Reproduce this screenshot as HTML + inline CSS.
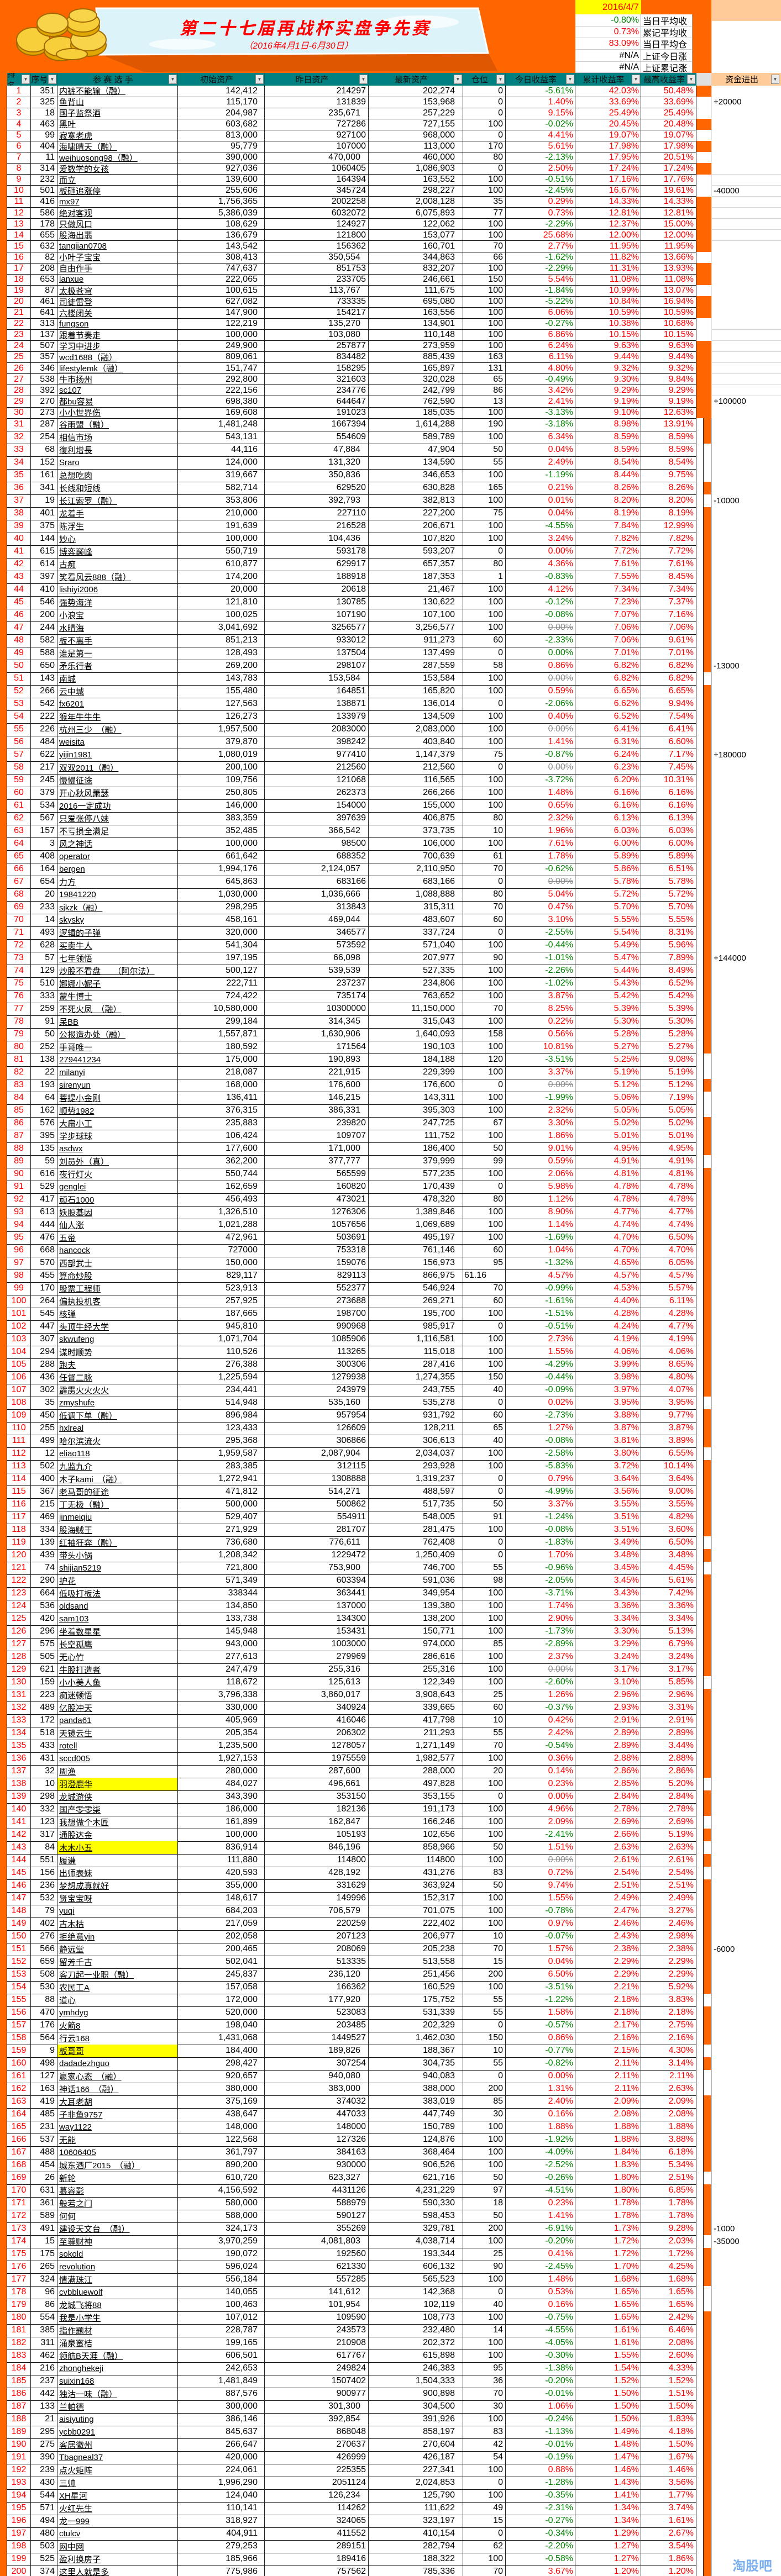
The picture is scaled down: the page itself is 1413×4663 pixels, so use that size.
<!DOCTYPE html>
<html lang="zh">
<head>
<meta charset="utf-8">
<title>第二十七届再战杯实盘争先赛</title>
<style>
html,body{margin:0;padding:0;background:#fff;}
#sheet{position:relative;width:1413px;height:4663px;overflow:hidden;background:#fff;font-family:"Liberation Sans Narrow","Liberation Sans","Noto Sans CJK SC",sans-serif;}
.abs{position:absolute;box-sizing:border-box;}
.c{position:absolute;box-sizing:border-box;white-space:nowrap;overflow:hidden;font-size:16px;border-right:1px solid #222;border-bottom:1px solid #111;display:flex;align-items:center;}
.r{justify-content:flex-end;}
.m{justify-content:center;}
.l{justify-content:flex-start;}
.nm{font-family:"Liberation Sans","Noto Sans CJK SC",sans-serif;font-size:15px;text-decoration:underline;padding-left:3px;}
.hd{position:absolute;box-sizing:border-box;background:#008080;color:#111;font-family:"Liberation Sans","Noto Sans CJK SC",sans-serif;font-size:15px;display:flex;align-items:center;justify-content:center;border-right:1px solid #0a5f5f;}
.fb{position:absolute;width:15px;height:17px;background:#e8e8e8;border:1px solid #888;box-sizing:border-box;font-size:8px;color:#444;display:flex;align-items:center;justify-content:center;}
.stat{position:absolute;box-sizing:border-box;background:#fff;border-bottom:1px solid #ccc;font-size:16px;display:flex;align-items:center;}
</style>
</head>
<body>
<div id="sheet">
  <!-- top orange area -->
  <div class="abs" style="left:0;top:0;width:1287px;height:155px;background:#FF6600;"></div>
  <!-- right column top peach -->
  <div class="abs" style="left:1287px;top:0;width:126px;height:38px;background:#FFCC99;"></div>
  <div class="abs" style="left:1287px;top:38px;width:126px;height:94px;background:#fff;border-left:1px solid #ddd;"></div>

  <!-- banner -->
  <svg class="abs" style="left:0;top:0;" width="1040" height="132">
    <polygon points="180,98 883,95 900,128 260,130" fill="#D95500" opacity="0.85"/>
    <polygon points="174,15 865,15 883,96 180,99" fill="#DDF3FA" stroke="#ffffff" stroke-width="3"/>
    <ellipse cx="330" cy="80" rx="60" ry="10" fill="#ffffff" opacity="0.7"/>
    <ellipse cx="760" cy="40" rx="70" ry="12" fill="#ffffff" opacity="0.7"/>
    <g>
      <ellipse cx="60" cy="78" rx="30" ry="22" fill="#E0A800" stroke="#A06800" stroke-width="2"/>
      <ellipse cx="60" cy="72" rx="30" ry="22" fill="#F7CF3A" stroke="#A06800" stroke-width="2"/>
      <ellipse cx="110" cy="92" rx="30" ry="18" fill="#E0A800" stroke="#A06800" stroke-width="2"/>
      <ellipse cx="110" cy="84" rx="30" ry="18" fill="#F7CF3A" stroke="#A06800" stroke-width="2"/>
      <ellipse cx="160" cy="82" rx="32" ry="20" fill="#E0A800" stroke="#A06800" stroke-width="2"/>
      <ellipse cx="160" cy="72" rx="32" ry="20" fill="#F8D44A" stroke="#A06800" stroke-width="2"/>
      <ellipse cx="150" cy="48" rx="30" ry="18" fill="#E0A800" stroke="#A06800" stroke-width="2"/>
      <ellipse cx="150" cy="40" rx="30" ry="18" fill="#F7CF3A" stroke="#A06800" stroke-width="2"/>
      <ellipse cx="95" cy="48" rx="28" ry="18" fill="#E0A800" stroke="#A06800" stroke-width="2"/>
      <ellipse cx="95" cy="42" rx="28" ry="18" fill="#F8D44A" stroke="#A06800" stroke-width="2"/>
      <ellipse cx="150" cy="28" rx="25" ry="12" fill="#F8D44A" stroke="#A06800" stroke-width="2"/>
      <ellipse cx="130" cy="98" rx="28" ry="10" fill="#F7CF3A" stroke="#A06800" stroke-width="2"/>
    </g>
    <text x="552" y="62" text-anchor="middle" fill="#FF0000" font-family="Liberation Sans, Noto Sans CJK SC, sans-serif" font-size="31" font-weight="bold" font-style="italic" letter-spacing="4">第二十七届再战杯实盘争先赛</text>
    <text x="540" y="88" text-anchor="middle" fill="#FF0000" font-family="Liberation Sans, Noto Sans CJK SC, sans-serif" font-size="16" font-style="italic">（2016年4月1日-6月30日）</text>
  </svg>

  <!-- stats panel -->
  <div class="abs" style="left:1041px;top:0;width:119px;height:26px;background:#FFFF00;color:#FF0000;font-size:17px;display:flex;align-items:center;justify-content:flex-end;padding-right:4px;">2016/4/7</div>
  <div id="stats"></div>

  <div id="rows"></div>
</div>

<script>
// ---- data ----
var ids = [351,325,18,463,99,404,11,314,232,501,
416,586,178,655,632,82,208,653,87,461,
641,313,137,507,357,346,538,392,270,273,
287,254,68,152,161,341,19,401,375,144,
615,614,397,410,546,200,244,582,588,650,
143,266,542,222,226,484,622,217,245,379,
534,567,157,3,408,164,654,20,233,14,
493,628,57,129,510,333,259,91,50,252,
138,22,193,64,162,576,395,135,59,616,
529,417,613,444,476,668,570,455,170,264,
545,447,307,294,288,436,302,35,450,255,
499,12,502,400,367,215,469,334,139,439,
74,290,664,536,420,296,575,505,621,159,
223,489,172,518,433,431,32,10,298,332,
123,317,84,551,156,236,532,79,402,276,
566,659,508,530,88,470,176,564,9,498,
127,163,419,485,231,537,488,454,26,631,
361,589,491,15,175,265,324,96,86,554,
385,311,462,216,237,442,133,21,295,275,
390,239,430,544,571,494,480,503,525,374];

var names = ["内裤不能输（融）","鱼背山","国子监祭酒","黑叶","寂寞老虎","海啸晴天（融）","weihuosong98（融）","爱数学的女孩","而立","板砸追涨停",
"mx97","绝对客观","只做风口","股海出翡","tangjian0708","小叶子宝宝","自由作手","lanxue","太极苍穹","司徒雷登",
"六楼闭关","fungson","跟着节奏走","学习中进步","wcd1688（融）","lifestylemk（融）","牛市扬州","sc107","都bu容易","小小世界伤",
"谷雨盟（融）","相信市场","復利增長","Sraro","总想吃肉","长线和短线","长江索罗（融）","龙着手","陈浮生","妙心",
"博弈巅峰","古痴","笑看风云888（融）","lishiyi2006","强势海洋","小浪宝","水晴海","板不离手","谁是第一","矛乐行者",
"南城","云中城","fx6201","猴年牛牛牛","杭州三少　（融）","weisita","yijin1981","双双2011（融）","慢慢征途","开心秋风萧瑟",
"2016一定成功","只爱张停八妹","不亏损全满足","风之神话","operator","bergen","力方","19841220","sjkzk（融）","skysky",
"逻辑的子弹","买卖牛人","七年领悟","炒股不看盘　　（阿尔法）","娜娜小妮子","蒙牛博士","不死火凤　（融）","呆BB","公报造办处（融）","手哥唯一",
"279441234","milanyi","sirenyun","菩提小金刚","顺势1982","大扁小工","学步球球","asdwx","刘员外（真）","夜行灯火",
"genglei","顽石1000","妖股基因","仙人涨","五帝","hancock","西部武士","算命炒股","股票工程师","偏执投机客",
"核弹","头顶牛经大学","skwufeng","谋时顺势","跑夫","任督二脉","霹雳火火火火","zmyshufe","低调下单（融）","hxlreal",
"哈尔滨流火","eliao118","九监九介","木子kami　（融）","老马哥的征途","丁无极（融）","jinmeiqiu","股海贼王","红袖狂奔（融）","带头小锅",
"shijian5219","护花","低吸打板法","oldsand","sam103","坐着数星星","长空孤鹰","无心竹","牛股打造者","小小美人鱼",
"痴迷顿悟","亿股冲天","panda61","天镜云生","rotell","sccd005","周渔","羽澄鹿华","龙城游侠","国产零零柒",
"我想做个木匠","通股达金","木木小五","履谦","出师表妹","梦想成真就好","贤宝宝呀","yuqi","古木枯","拒绝意yin",
"静远堂","留芳千古","客刀起一业职（融）","农民工A","道心","ymhdyg","火箭8","行云168","板哥哥","dadadezhguo",
"赢家心态　（融）","神话166　（融）","大耳老胡","子非鱼9757","way1122","无能","10606405","城东酒厂2015　（融）","新轮","慕容影",
"般若之门","何何","建设天文台　（融）","至尊财神","sokold","revolution","情满珠江","cvbbluewolf","龙城飞将88","我是小学生",
"指作题材","涌泉蜜桔","领航B天涯（融）","zhonghekeji","suixin168","独沽一味（融）","兰帕德","aisiyuting","ycbb0291","客居徽州",
"Tbagneal37","点火矩阵","三帅","XH星河","火红先生","龙一999","ctulcv","网中网","盈利换房子","这里人就是多"];

var initAssets = ["142,412","115,170","204,987","603,682","813,000","95,779","390,000","927,036","139,600","255,606",
"1,756,365","5,386,039","108,629","136,679","143,542","308,413","747,637","222,065","100,615","627,082",
"147,900","122,219","100,000","249,900","809,061","151,747","292,800","222,156","698,380","169,608",
"1,481,248","543,131","44,116","124,000","319,667","582,714","353,806","210,000","191,639","100,000",
"550,719","610,877","174,200","20,000","121,810","100,025","3,041,692","851,213","128,493","269,200",
"143,783","155,480","127,563","126,273","1,957,500","379,870","1,080,019","200,100","109,756","250,805",
"146,000","383,359","352,485","100,000","661,642","1,994,176","645,863","1,030,000","298,295","458,161",
"320,000","541,304","197,195","500,127","222,711","724,422","10,580,000","299,184","1,557,871","180,592",
"175,000","218,087","168,000","136,411","376,315","235,883","106,424","177,600","362,200","550,744",
"162,659","456,493","1,326,510","1,021,288","472,961","727000","150,000","829,117","523,913","257,925",
"187,665","945,810","1,071,704","110,526","276,388","1,225,594","234,441","514,948","896,984","123,433",
"295,368","1,959,587","283,385","1,272,941","471,812","500,000","529,407","271,929","736,680","1,208,342",
"721,800","571,349","338344","134,850","133,738","145,948","943,000","277,613","247,479","118,672",
"3,796,338","330,000","405,969","205,354","1,235,500","1,927,153","280,000","484,027","343,390","186,000",
"161,899","100,000","836,914","111,880","420,593","355,000","148,617","684,203","217,059","202,058",
"200,465","502,041","245,837","157,058","172,000","520,000","198,040","1,431,068","184,400","298,427",
"920,657","380,000","375,169","438,647","148,000","122,568","361,797","890,200","610,720","4,156,592",
"580,000","588,000","324,173","3,970,259","190,072","596,024","556,184","140,055","100,463","107,012",
"228,787","199,165","606,501","242,653","1,481,849","887,576","300,000","386,146","845,637","266,647",
"420,000","224,061","1,996,290","124,040","110,141","318,927","404,911","279,253","185,966","775,986"];

var yestAssets = ["214297","131839","235,671","727286","927100","107000","470,000","1060405","164394","345724",
"2002258","6032072","124927","121800","156362","350,554","851753","233705","113,767","733335",
"154217","135,270","103,080","257877","834482","158295","321603","234776","644647","191023",
"1667394","554609","47,884","131,320","350,836","629520","392,793","227110","216528","104,436",
"593178","629917","188918","20618","130785","107190","3256577","933012","137504","298107",
"153,584","164851","138871","133979","2083000","398242","977410","212560","121068","262373",
"154000","397639","366,542","98500","688352","2,124,057","683166","1,036,666","313843","469,044",
"346577","573592","66,098","539,539","237237","735174","10300000","314,345","1,630,906","171564",
"190,893","221,915","176,600","146,215","386,331","239820","109707","171,000","377,777","565599",
"160820","473021","1276306","1057656","503691","753318","159076","829113","552377","273688",
"198700","990968","1085906","113265","300306","1279938","243979","535,160","957954","126609",
"306866","2,087,904","312115","1308888","514,271","500862","554911","281707","776,611","1229472",
"753,900","603394","363441","137000","134300","153431","1003000","279969","255,316","125,613",
"3,860,017","340924","416046","206302","1278057","1975559","287,600","496,661","353150","182136",
"162,847","105193","846,196","114800","428,192","331629","149996","706,579","220259","207123",
"208069","513335","236,120","166362","177,920","523083","203485","1449527","189,826","307254",
"940,080","383,000","374032","447033","148000","127326","384163","930000","623,327","4431126",
"588979","590127","355269","4,081,803","192560","621330","557285","141,612","101,954","109590",
"243573","210908","617767","249824","1507402","900977","301,300","392,854","868048","270637",
"426999","225355","2051124","126,234","114262","324065","411552","289151","189416","757562"];

var latestAssets = ["202,274","153,968","257,229","727,155","968,000","113,000","460,000","1,086,903","163,552","298,227",
"2,008,128","6,075,893","122,062","153,077","160,701","344,863","832,207","246,661","111,675","695,080",
"163,556","134,901","110,148","273,959","885,439","165,897","320,028","242,799","762,590","185,035",
"1,614,288","589,789","47,904","134,590","346,653","630,828","382,813","227,200","206,671","107,820",
"593,207","657,357","187,353","21,467","130,622","107,100","3,256,577","911,273","137,499","287,559",
"153,584","165,820","136,014","134,509","2,083,000","403,840","1,147,379","212,560","116,565","266,266",
"155,000","406,875","373,735","106,000","700,639","2,110,950","683,166","1,088,888","315,311","483,607",
"337,724","571,040","207,977","527,335","234,806","763,652","11,150,000","315,043","1,640,093","190,103",
"184,188","229,399","176,600","143,311","395,303","247,725","111,752","186,400","379,999","577,235",
"170,439","478,320","1,389,846","1,069,689","495,197","761,146","156,973","866,975","546,924","269,271",
"195,700","985,917","1,116,581","115,018","287,416","1,274,355","243,755","535,278","931,792","128,211",
"306,613","2,034,037","293,928","1,319,237","488,597","517,735","548,005","281,475","762,408","1,250,409",
"746,700","591,036","349,954","139,380","138,200","150,771","974,000","286,616","255,316","122,349",
"3,908,643","339,665","417,798","211,293","1,271,149","1,982,577","288,000","497,828","353,155","191,173",
"166,246","102,656","858,966","114800","431,276","363,924","152,317","701,075","222,402","206,977",
"205,238","513,558","251,456","160,529","175,752","531,339","202,329","1,462,030","188,367","304,735",
"940,083","388,000","383,019","447,749","150,789","124,876","368,464","906,526","621,716","4,231,229",
"590,330","598,453","329,781","4,038,714","193,344","606,132","565,523","142,368","102,119","108,773",
"232,480","202,372","615,898","246,383","1,504,333","900,898","304,500","391,926","858,197","270,604",
"426,187","227,341","2,024,853","125,790","111,622","323,197","410,154","282,794","188,322","785,336"];

var positions = [0,0,0,100,0,170,80,0,100,100,
35,77,100,100,70,66,100,150,100,100,
100,100,100,100,163,131,65,86,13,100,
190,100,50,55,100,165,100,75,100,100,
0,80,1,100,100,100,100,60,0,58,
100,100,0,100,100,100,75,0,100,100,
100,80,10,100,61,70,0,80,70,60,
0,100,90,100,100,100,70,100,158,100,
120,100,0,100,100,67,100,50,99,100,
0,80,100,100,100,60,95,"61.16",70,60,
100,0,100,100,100,150,40,0,60,65,
40,100,100,0,0,50,91,100,0,0,
55,98,100,100,100,100,85,100,100,100,
25,60,10,55,70,100,20,100,0,100,
100,100,50,100,83,50,100,100,100,10,
70,15,200,100,55,55,0,150,10,55,
0,200,85,30,100,100,100,100,50,97,
18,50,200,100,25,90,100,0,40,100,
14,100,100,95,36,70,30,100,83,42,
54,100,0,100,49,15,0,62,100,70];

var todayReturn = ["-5.61%","1.40%","9.15%","-0.02%","4.41%","5.61%","-2.13%","2.50%","-0.51%","-2.45%",
"0.29%","0.73%","-2.29%","25.68%","2.77%","-1.62%","-2.29%","5.54%","-1.84%","-5.22%",
"6.06%","-0.27%","6.86%","6.24%","6.11%","4.80%","-0.49%","3.42%","2.41%","-3.13%",
"-3.18%","6.34%","0.04%","2.49%","-1.19%","0.21%","0.01%","0.04%","-4.55%","3.24%",
"0.00%","4.36%","-0.83%","4.12%","-0.12%","-0.08%","0.00%","-2.33%","0.00%","0.86%",
"0.00%","0.59%","-2.06%","0.40%","0.00%","1.41%","-0.87%","0.00%","-3.72%","1.48%",
"0.65%","2.32%","1.96%","7.61%","1.78%","-0.62%","0.00%","5.04%","0.47%","3.10%",
"-2.55%","-0.44%","-1.01%","-2.26%","-1.02%","3.87%","8.25%","0.22%","0.56%","10.81%",
"-3.51%","3.37%","0.00%","-1.99%","2.32%","3.30%","1.86%","9.01%","0.59%","2.06%",
"5.98%","1.12%","8.90%","1.14%","-1.69%","1.04%","-1.32%","4.57%","-0.99%","-1.61%",
"-1.51%","-0.51%","2.73%","1.55%","-4.29%","-0.44%","-0.09%","0.02%","-2.73%","1.27%",
"-0.08%","-2.58%","-5.83%","0.79%","-4.99%","3.37%","-1.24%","-0.08%","-1.83%","1.70%",
"-0.96%","-2.05%","-3.71%","1.74%","2.90%","-1.73%","-2.89%","2.37%","0.00%","-2.60%",
"1.26%","-0.37%","0.42%","2.42%","-0.54%","0.36%","0.14%","0.23%","0.00%","4.96%",
"2.09%","-2.41%","1.51%","0.00%","0.72%","9.74%","1.55%","-0.78%","0.97%","-0.07%",
"1.57%","0.04%","6.50%","-3.51%","-1.22%","1.58%","-0.57%","0.86%","-0.77%","-0.82%",
"0.00%","1.31%","2.40%","0.16%","1.88%","-1.92%","-4.09%","-2.52%","-0.26%","-4.51%",
"0.23%","1.41%","-6.91%","-0.20%","0.41%","-2.45%","1.48%","0.53%","0.16%","-0.75%",
"-4.55%","-4.05%","-0.30%","-1.38%","-0.20%","-0.01%","1.06%","-0.24%","-1.13%","-0.01%",
"-0.19%","0.88%","-1.28%","-0.35%","-2.31%","-0.27%","-0.34%","-2.20%","-0.58%","3.67%"];

var cumReturn = ["42.03%","33.69%","25.49%","20.45%","19.07%","17.98%","17.95%","17.24%","17.16%","16.67%",
"14.33%","12.81%","12.37%","12.00%","11.95%","11.82%","11.31%","11.08%","10.99%","10.84%",
"10.59%","10.38%","10.15%","9.63%","9.44%","9.32%","9.30%","9.29%","9.19%","9.10%",
"8.98%","8.59%","8.59%","8.54%","8.44%","8.26%","8.20%","8.19%","7.84%","7.82%",
"7.72%","7.61%","7.55%","7.34%","7.23%","7.07%","7.06%","7.06%","7.01%","6.82%",
"6.82%","6.65%","6.62%","6.52%","6.41%","6.31%","6.24%","6.23%","6.20%","6.16%",
"6.16%","6.13%","6.03%","6.00%","5.89%","5.86%","5.78%","5.72%","5.70%","5.55%",
"5.54%","5.49%","5.47%","5.44%","5.43%","5.42%","5.39%","5.30%","5.28%","5.27%",
"5.25%","5.19%","5.12%","5.06%","5.05%","5.02%","5.01%","4.95%","4.91%","4.81%",
"4.78%","4.78%","4.77%","4.74%","4.70%","4.70%","4.65%","4.57%","4.53%","4.40%",
"4.28%","4.24%","4.19%","4.06%","3.99%","3.98%","3.97%","3.95%","3.88%","3.87%",
"3.81%","3.80%","3.72%","3.64%","3.56%","3.55%","3.51%","3.51%","3.49%","3.48%",
"3.45%","3.45%","3.43%","3.36%","3.34%","3.30%","3.29%","3.24%","3.17%","3.10%",
"2.96%","2.93%","2.91%","2.89%","2.89%","2.88%","2.86%","2.85%","2.84%","2.78%",
"2.69%","2.66%","2.63%","2.61%","2.54%","2.51%","2.49%","2.47%","2.46%","2.43%",
"2.38%","2.29%","2.29%","2.21%","2.18%","2.18%","2.17%","2.16%","2.15%","2.11%",
"2.11%","2.11%","2.09%","2.08%","1.88%","1.88%","1.84%","1.83%","1.80%","1.80%",
"1.78%","1.78%","1.73%","1.72%","1.72%","1.70%","1.68%","1.65%","1.65%","1.65%",
"1.61%","1.61%","1.55%","1.54%","1.52%","1.50%","1.50%","1.50%","1.49%","1.48%",
"1.47%","1.46%","1.43%","1.41%","1.34%","1.34%","1.29%","1.27%","1.27%","1.20%"];

var maxReturn = ["50.48%","33.69%","25.49%","20.48%","19.07%","17.98%","20.51%","17.24%","17.76%","19.61%",
"14.33%","12.81%","15.00%","12.00%","11.95%","13.66%","13.93%","11.08%","13.07%","16.94%",
"10.59%","10.68%","10.15%","9.63%","9.44%","9.32%","9.84%","9.29%","9.19%","12.63%",
"13.91%","8.59%","8.59%","8.54%","9.75%","8.26%","8.20%","8.19%","12.99%","7.82%",
"7.72%","7.61%","8.45%","7.34%","7.37%","7.16%","7.06%","9.61%","7.01%","6.82%",
"6.82%","6.65%","9.94%","7.54%","6.41%","6.60%","7.17%","7.45%","10.31%","6.16%",
"6.16%","6.13%","6.03%","6.00%","5.89%","6.51%","5.78%","5.72%","5.70%","5.55%",
"8.31%","5.96%","7.89%","8.49%","6.52%","5.42%","5.39%","5.30%","5.28%","5.27%",
"9.08%","5.19%","5.12%","7.19%","5.05%","5.02%","5.01%","4.95%","4.91%","4.81%",
"4.78%","4.78%","4.77%","4.74%","6.50%","4.70%","6.05%","4.57%","5.57%","6.11%",
"4.28%","4.77%","4.19%","4.06%","8.65%","4.80%","4.07%","3.95%","9.77%","3.87%",
"3.89%","6.55%","10.14%","3.64%","9.00%","3.55%","4.82%","3.60%","6.50%","3.48%",
"4.45%","5.61%","7.42%","3.36%","3.34%","5.13%","6.79%","3.24%","3.17%","5.85%",
"2.96%","3.31%","2.91%","2.89%","3.44%","2.88%","2.86%","5.20%","2.84%","2.78%",
"2.69%","5.19%","2.63%","2.61%","2.54%","2.51%","2.49%","3.27%","2.46%","2.98%",
"2.38%","2.29%","2.29%","5.92%","3.83%","2.18%","2.75%","2.16%","4.30%","3.14%",
"2.11%","2.63%","2.09%","2.08%","1.88%","3.88%","6.18%","5.34%","2.51%","6.85%",
"1.78%","1.78%","9.28%","2.03%","1.72%","4.25%","1.68%","1.65%","1.65%","2.42%",
"6.46%","2.08%","2.60%","4.33%","1.52%","1.51%","1.50%","1.83%","4.18%","1.50%",
"1.67%","1.46%","3.56%","1.77%","3.74%","1.61%","2.67%","3.54%","1.86%","1.20%"];

var struckRanks = [47,51,55,58,67,83,129,144];
var zeroGreenRanks = [49];
var highlightRanks = [138,143,159];
var flowRanks = [2,10,29,37,50,57,73,151,173,174];
var flowValues = ["+20000","-40000","+100000","-10000","-13000","+180000","+144000","-6000","-1000","-35000"];
var whiteStripRanks = [2,3,5,7,9,10,16,19,22,23,33,34,35,37,51,81,82,84,85,89,108,112,119,121,130,138,141,143,145,155,159,161,162,169,174,178,179];

var statValues = ["-0.80%","0.73%","83.09%","#N/A","#N/A"];
var statLabels = ["当日平均收","累记平均收","当日平均仓","上证今日涨","上证累记涨"];
var statColors = ["#008000","#FF0000","#FF0000","#000","#000"];

var headers = ["排名","序号","参 赛 选 手","初始资产","昨日资产","最新资产","仓位","今日收益率","累计收益率","最高收益率"];
var colX = [13,56,104,322,479,667,838,915,1041,1160,1260];

// ---- layout helpers ----
function rowTop(i){ return i < 30 ? 155 + i*20.07 : 757 + (i-30)*23; }
function rowH(i){ return i < 30 ? 20.07 : 23; }

var sheet = document.getElementById('sheet');

// stats panel
var statTops = [26,48,69,90,112,132];
for (var s = 0; s < statValues.length; s++) {
  var v = document.createElement('div');
  v.className = 'stat';
  
  
  v.style.cssText = 'left:1041px;top:'+statTops[s]+'px;width:119px;height:'+(statTops[s+1]-statTops[s])+'px;justify-content:flex-end;padding-right:3px;color:'+statColors[s]+';border-right:1px solid #999;';
  v.textContent = statValues[s];
  sheet.appendChild(v);
  var lb = document.createElement('div');
  lb.className = 'stat';
  
  
  lb.style.cssText = 'left:1160px;top:'+statTops[s]+'px;width:93px;height:'+(statTops[s+1]-statTops[s])+'px;padding-left:3px;font-family:"Liberation Sans","Noto Sans CJK SC",sans-serif;font-size:16px;border-right:1px solid #999;';
  lb.textContent = statLabels[s];
  sheet.appendChild(lb);
}

// header row
var hleft = document.createElement('div');
hleft.className = 'abs';


hleft.style.cssText = 'left:0;top:132px;width:13px;height:23px;background:#FF6600;';
sheet.appendChild(hleft);
for (var h = 0; h < headers.length; h++) {
  var hd = document.createElement('div');
  hd.className = 'hd';
  
  
  var w = colX[h+1] - colX[h];
  hd.style.left = colX[h] + 'px';
  hd.style.top = '132px';
  hd.style.width = w + 'px';
  hd.style.height = '23px';
  hd.style.paddingRight = '16px';
  hd.style.overflow = 'hidden';
  hd.textContent = headers[h];
  sheet.appendChild(hd);
  var fb = document.createElement('div');
  fb.className = 'fb';
  
  
  fb.style.left = (colX[h+1] - 17) + 'px';
  fb.style.top = '135px';
  fb.textContent = '▼';
  sheet.appendChild(fb);
}
var hgap = document.createElement('div');
hgap.className = 'abs';


hgap.style.cssText = 'left:1260px;top:132px;width:27px;height:23px;background:#e0e0e0;';
sheet.appendChild(hgap);
var flowHead = document.createElement('div');
flowHead.className = 'abs';


flowHead.style.cssText = 'left:1287px;top:132px;width:126px;height:23px;background:#FFCC99;font-family:"Liberation Sans","Noto Sans CJK SC",sans-serif;font-size:15px;display:flex;align-items:center;justify-content:center;padding-right:16px;';
flowHead.textContent = '资金进出';
sheet.appendChild(flowHead);
var ffb = document.createElement('div');
ffb.className = 'fb';


ffb.style.left = '1395px';
ffb.style.top = '135px';
ffb.textContent = '▼';
sheet.appendChild(ffb);

// left orange strip
var lstrip = document.createElement('div');
lstrip.className = 'abs';


lstrip.style.cssText = 'left:0;top:155px;width:13px;height:4508px;background:#FF6600;border-right:1px solid #222;';
sheet.appendChild(lstrip);

function cell(cls, x, y, w, hgt, txt, name, extra){
  var d = document.createElement('div');
  d.className = 'c ' + cls;
  d.style.left = x + 'px';
  d.style.top = y + 'px';
  d.style.width = w + 'px';
  d.style.height = hgt + 'px';
  if (extra) d.style.cssText += extra;
  d.textContent = txt;
  sheet.appendChild(d);
  return d;
}

for (var i = 0; i < ids.length; i++) {
  var rank = i + 1;
  var y = rowTop(i), hh = rowH(i) + 0.5;
  var d;
  d = cell('m', colX[0], y, colX[1]-colX[0], hh, String(rank), '', 'color:#FF0000;');
  
  
  d = cell('r', colX[1], y, colX[2]-colX[1], hh, String(ids[i]), '', 'padding-right:4px;');
  
  
  var hl = highlightRanks.indexOf(rank) >= 0 ? 'background:#FFFF00;' : '';
  d = cell('l nm', colX[2], y, colX[3]-colX[2], hh, names[i], '', hl);
  
  
  d = cell('r', colX[3], y, colX[4]-colX[3], hh, initAssets[i], '', 'padding-right:12px;');
  
  
  var yp = yestAssets[i].indexOf(',') >= 0 ? 14 : 4;
  d = cell('r', colX[4], y, colX[5]-colX[4], hh, yestAssets[i], '', 'padding-right:'+yp+'px;');
  
  
  d = cell('r', colX[5], y, colX[6]-colX[5], hh, latestAssets[i], '', 'padding-right:14px;');
  
  
  var pAlign = String(positions[i]).indexOf('.') >= 0 ? 'l' : 'r';
  d = cell(pAlign, colX[6], y, colX[7]-colX[6], hh, String(positions[i]), '', 'padding-right:4px;padding-left:2px;');
  
  
  var t = todayReturn[i];
  var tStyle = 'padding-right:3px;';
  if (struckRanks.indexOf(rank) >= 0) tStyle += 'color:#8a8a8a;text-decoration:line-through;';
  else if (t.charAt(0) === '-') tStyle += 'color:#008000;';
  else if (t === '0.00%' && zeroGreenRanks.indexOf(rank) >= 0) tStyle += 'color:#008000;';
  else tStyle += 'color:#FF0000;';
  d = cell('r', colX[7], y, colX[8]-colX[7], hh, t, '', tStyle);
  
  
  d = cell('r', colX[8], y, colX[9]-colX[8], hh, cumReturn[i], '', 'padding-right:3px;color:#FF0000;');
  
  
  d = cell('r', colX[9], y, colX[10]-colX[9], hh, maxReturn[i], '', 'padding-right:4px;color:#FF0000;');
  
  

  // right strip
  var white = whiteStripRanks.indexOf(rank) >= 0;
  var st = document.createElement('div');
  st.className = 'abs';
  
  
  if (i < 30) {
    st.style.cssText = 'left:1260px;top:'+y+'px;width:27px;height:'+hh+'px;background:'+(white?'#fff':'#FF6600')+';';
  } else {
    st.style.cssText = 'left:1260px;top:'+y+'px;width:27px;height:'+hh+'px;background:'+(white?'#fff':'#FF6600')+';border-left:12px solid #fff;border-right:1px solid #222;border-bottom:1px solid #111;box-shadow:inset 1px 0 0 #222;';
  }
  sheet.appendChild(st);

  // fund flow cell
  var fi = flowRanks.indexOf(rank);
  var fc = document.createElement('div');
  fc.className = 'abs';
  
  
  fc.style.cssText = 'left:1287px;top:'+y+'px;width:126px;height:'+hh+'px;border-bottom:1px solid #d8d8d8;border-left:1px solid #e0e0e0;font-size:15px;display:flex;align-items:center;padding-left:3px;background:#fff;';
  fc.textContent = fi >= 0 ? flowValues[fi] : '';
  sheet.appendChild(fc);
}

// watermark
var wm = document.createElement('div');
wm.className = 'abs';


wm.style.cssText = 'left:1325px;top:4625px;font-family:"Liberation Sans","Noto Sans CJK SC",sans-serif;font-size:24px;font-weight:bold;color:#6FA8F0;opacity:0.9;';
wm.textContent = '淘股吧';
sheet.appendChild(wm);
</script>
</body>
</html>
